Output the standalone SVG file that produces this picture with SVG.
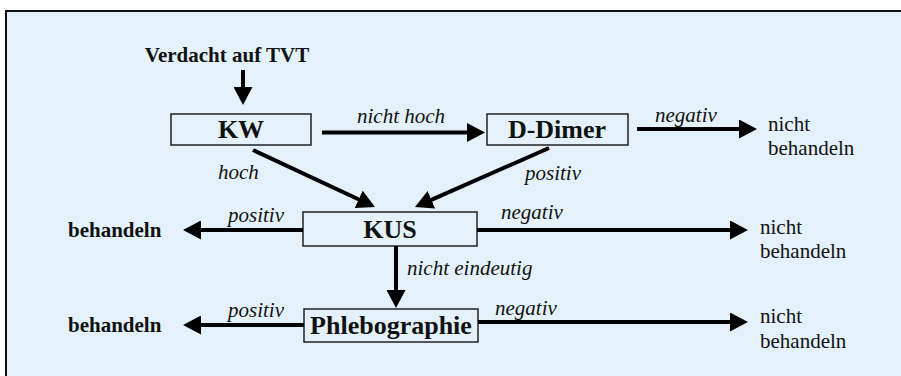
<svg xmlns="http://www.w3.org/2000/svg" width="901" height="376" viewBox="0 0 901 376">
  <style>
    .node rect { fill: #e4f1fb; stroke: #222; stroke-width: 1.5; }
    .node text { font-size: 26px; font-weight: bold; text-anchor: middle; }
    .lbl { font-size: 21px; font-style: italic; }
    .out { font-size: 21px; }
    .outb { font-size: 21px; font-weight: bold; }
    .edge { stroke: #000; stroke-width: 4; fill: none; marker-end: url(#head); }
  </style>
  <defs>
    <marker id="head" markerUnits="userSpaceOnUse" markerWidth="18" markerHeight="19" refX="2" refY="9.5" orient="auto">
      <path d="M0,0 L18,9.5 L0,19 z" fill="#000"/>
    </marker>
  </defs>

  <!-- panel -->
  <rect x="0" y="0" width="901" height="376" fill="#ffffff"/>
  <rect x="6" y="11" width="910" height="380" fill="#e4f1fb" stroke="#111" stroke-width="2"/>

  <g font-family="Liberation Serif, DejaVu Serif, serif" fill="#111">
    <!-- start -->
    <text class="outb" x="227" y="62" text-anchor="middle">Verdacht auf TVT</text>

    <!-- nodes -->
    <g id="kw" class="node">
      <rect x="171" y="114" width="140" height="31"/>
      <text x="241" y="138">KW</text>
    </g>
    <g id="ddimer" class="node">
      <rect x="487" y="114" width="141" height="31"/>
      <text x="557" y="138">D-Dimer</text>
    </g>
    <g id="kus" class="node">
      <rect x="303" y="212" width="174" height="34"/>
      <text x="390" y="238">KUS</text>
    </g>
    <g id="phlebographie" class="node">
      <rect x="304" y="309" width="174" height="33"/>
      <text x="391" y="334">Phlebographie</text>
    </g>

    <!-- connectors -->
    <g id="connectors">
      <line class="edge" x1="243" y1="70" x2="243" y2="89"/>
      <line class="edge" x1="322" y1="132.5" x2="469" y2="132.5"/>
      <line class="edge" x1="637" y1="129" x2="741" y2="129"/>
      <line class="edge" x1="253" y1="150" x2="360.5" y2="200.2"/>
      <line class="edge" x1="549" y1="148" x2="429.6" y2="200.6"/>
      <line class="edge" x1="303" y1="230" x2="199" y2="230"/>
      <line class="edge" x1="477" y1="230" x2="732" y2="230"/>
      <line class="edge" x1="396" y1="246" x2="396" y2="292"/>
      <line class="edge" x1="304" y1="325" x2="199" y2="325"/>
      <line class="edge" x1="478" y1="322" x2="732" y2="322"/>
    </g>

    <!-- edge labels -->
    <g id="labels">
      <text class="lbl" x="357" y="123">nicht hoch</text>
      <text class="lbl" x="655" y="122">negativ</text>
      <text class="lbl" x="218" y="179">hoch</text>
      <text class="lbl" x="525" y="180">positiv</text>
      <text class="lbl" x="228" y="222">positiv</text>
      <text class="lbl" x="501" y="219">negativ</text>
      <text class="lbl" x="407" y="275">nicht eindeutig</text>
      <text class="lbl" x="228" y="317">positiv</text>
      <text class="lbl" x="495" y="315">negativ</text>
    </g>

    <!-- outcomes -->
    <g id="outcomes">
      <text class="out" x="768" y="131">nicht</text>
      <text class="out" x="768" y="155">behandeln</text>
      <text class="outb" x="68" y="237">behandeln</text>
      <text class="out" x="760" y="234">nicht</text>
      <text class="out" x="760" y="258">behandeln</text>
      <text class="outb" x="68" y="332">behandeln</text>
      <text class="out" x="760" y="323">nicht</text>
      <text class="out" x="760" y="348">behandeln</text>
    </g>
  </g>
</svg>
